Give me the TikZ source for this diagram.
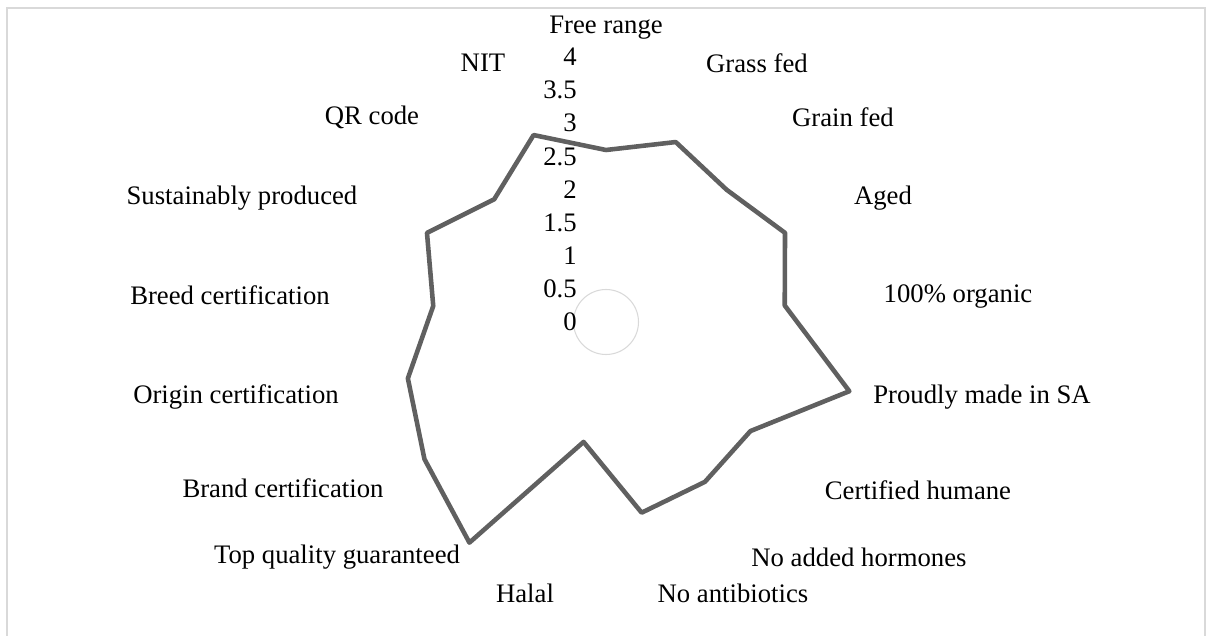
\documentclass[tikz,border=0pt]{standalone}
\usepackage{fontspec}
\setmainfont{Liberation Serif}
\usetikzlibrary{positioning}

\definecolor{seriesgray}{HTML}{606060}
\definecolor{gridgray}{HTML}{D9D9D9}
\newcommand{\chartfont}{\fontsize{15.2pt}{18pt}\selectfont}

\begin{document}
\begin{tikzpicture}[
    category/.style={font=\chartfont, inner sep=0pt},
    tick/.style={font=\chartfont, anchor=east, inner sep=0pt},
    series/.style={draw=seriesgray, line width=2.6pt, line join=round},
    frame/.style={draw=gridgray, line width=1.1pt}
]
\useasboundingbox (-12.12,-6.26) rectangle (12.02,6.44);

% chart area border (open at the bottom)
\draw[frame] (-11.98,-6.4) -- (-11.98,6.28) -- (11.98,6.28) -- (11.98,-6.4);

% inner grid circle
\draw[gridgray, line width=0.6pt] (0,0) circle (0.65);

% value axis
\node[tick] (t0)  at (-0.58,0)      {0};
\node[tick] (t05) at (-0.58,0.6625) {0.5};
\node[tick] (t1)  at (-0.58,1.325)  {1};
\node[tick] (t15) at (-0.58,1.9875) {1.5};
\node[tick] (t2)  at (-0.58,2.65)   {2};
\node[tick] (t25) at (-0.58,3.3125) {2.5};
\node[tick] (t3)  at (-0.58,3.975)  {3};
\node[tick] (t35) at (-0.58,4.6375) {3.5};
\node[tick] (t4)  at (-0.58,5.30)   {4};

% categories
\node[category] (free)    at (0,5.88)      {Free range};
\node[category] (grass)   at (3.02,5.18)   {Grass fed};
\node[category] (grain)   at (4.74,4.10)   {Grain fed};
\node[category] (aged)    at (5.54,2.48)   {Aged};
\node[category] (organic) at (7.04,0.52)   {100\% organic};
\node[category] (proudly) at (7.52,-1.50)  {Proudly made in SA};
\node[category] (humane)  at (6.24,-3.36)  {Certified humane};
\node[category] (hormone) at (5.06,-4.70)  {No added hormones};
\node[category] (antibio) at (2.54,-5.42)  {No antibiotics};
\node[category] (halal)   at (-1.62,-5.42) {Halal};
\node[category] (quality) at (-5.38,-4.70) {Top quality guaranteed};
\node[category] (brand)   at (-6.46,-3.32) {Brand certification};
\node[category] (origin)  at (-7.40,-1.50) {Origin certification};
\node[category] (breed)   at (-7.52,0.54)  {Breed certification};
\node[category] (sustain) at (-7.28,2.48)  {Sustainably produced};
\node[category] (qr)      at (-4.68,4.10)  {QR code};
\node[category] (nit)     at (-2.46,5.18)  {NIT};

% series points (value x 1.325cm)
\coordinate (v1)  at (90:3.44);
\coordinate (v2)  at (68.82:3.86);
\coordinate (v3)  at (47.65:3.58);
\coordinate (v4)  at (26.47:4.00);
\coordinate (v5)  at (5.29:3.59);
\coordinate (v6)  at (-15.88:5.06);
\coordinate (v7)  at (-37.06:3.62);
\coordinate (v8)  at (-58.24:3.76);
\coordinate (v9)  at (-79.41:3.88);
\coordinate (v10) at (-100.59:2.44);
\coordinate (v11) at (-121.76:5.19);
\coordinate (v12) at (-142.94:4.55);
\coordinate (v13) at (-164.12:4.12);
\coordinate (v14) at (174.71:3.47);
\coordinate (v15) at (153.53:4.00);
\coordinate (v16) at (132.35:3.32);
\coordinate (v17) at (111.18:4.01);

\draw[series] (v1) -- (v2) -- (v3) -- (v4) -- (v5) -- (v6) -- (v7) -- (v8) -- (v9)
    -- (v10) -- (v11) -- (v12) -- (v13) -- (v14) -- (v15) -- (v16) -- (v17) -- cycle;

\end{tikzpicture}
\end{document}
